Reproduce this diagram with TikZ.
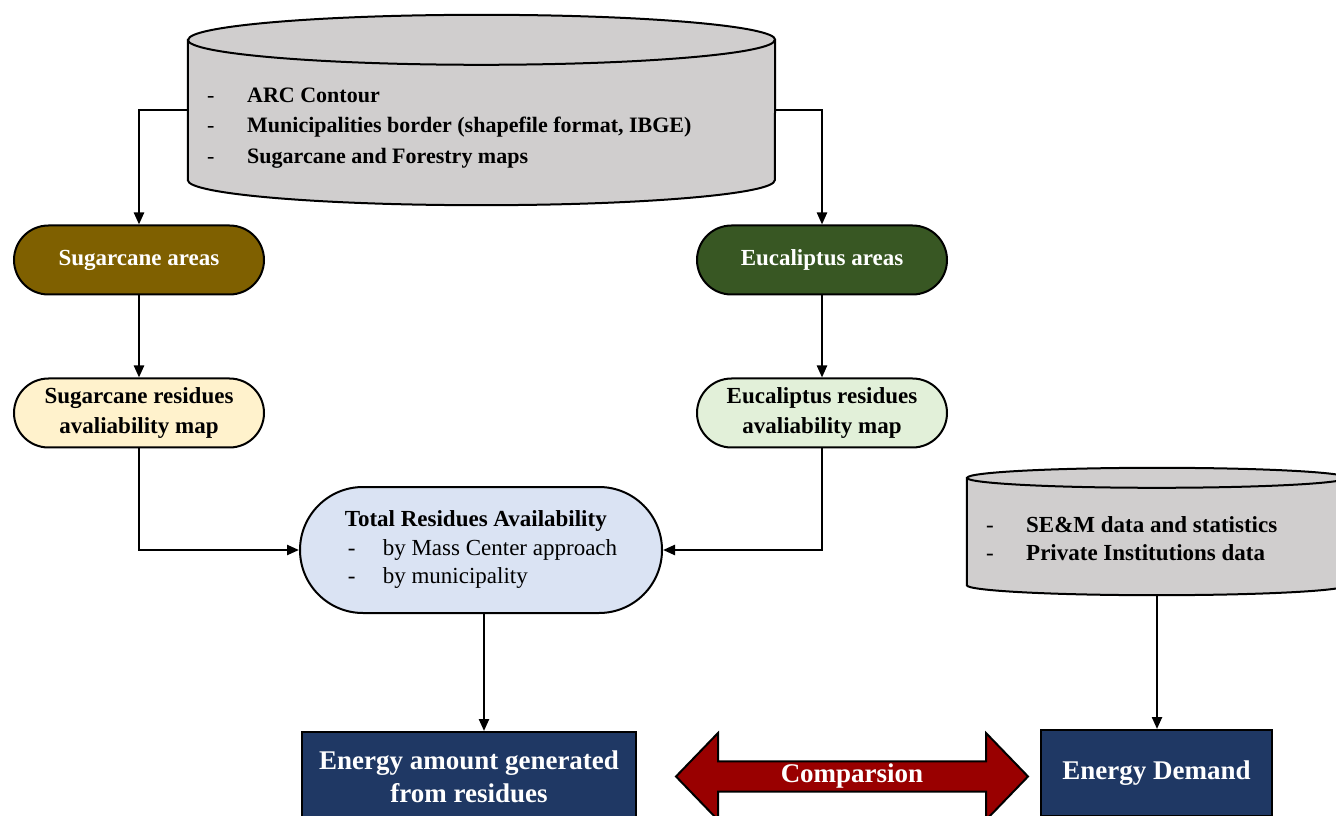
\documentclass[tikz,border=0pt]{standalone}
\usepackage{fontspec}
\setmainfont{Liberation Serif}
\usetikzlibrary{shapes.misc,shapes.arrows,arrows.meta}
\definecolor{cylgray}{HTML}{D0CECE}
\definecolor{sugbrown}{HTML}{7F6000}
\definecolor{eucgreen}{HTML}{385723}
\definecolor{sugyellow}{HTML}{FFF2CC}
\definecolor{euclight}{HTML}{E2F0D9}
\definecolor{totblue}{HTML}{DAE3F3}
\definecolor{navy}{HTML}{1F3864}
\definecolor{darkred}{HTML}{990000}
\begin{document}
\begin{tikzpicture}[x=1pt,y=1pt,
  arr/.style={line width=2.3pt,-{Triangle[length=12pt,width=10pt]}},
  cylfill/.style={fill=cylgray,draw=black,line width=2pt},
  cylbody/.style={rectangle,inner sep=0pt},
  cyltext/.style={inner sep=0pt,anchor=west,align=left},
  stad/.style={rounded rectangle,draw=black,line width=2pt,minimum width=250pt,
    minimum height=69pt,inner sep=0pt,align=center,font=\fontsize{23}{30}\selectfont\bfseries},
  navybox/.style={rectangle,draw=black,line width=2pt,fill=navy,text=white,align=center,
    inner sep=0pt,font=\fontsize{27}{33}\selectfont\bfseries}
]
\useasboundingbox (0,0) rectangle (1336,815);
\clip (0,0) rectangle (1336,815);

% top database cylinder
\node[cylbody,minimum width=587pt,minimum height=140pt] (db1) at (481.5,705) {};
\path[cylfill] (db1.north west) -- (db1.south west)
  arc[start angle=180,end angle=360,x radius=293.5pt,y radius=25pt]
  -- (db1.north east)
  arc[start angle=0,end angle=180,x radius=293.5pt,y radius=25pt] -- cycle;
\draw[line width=2pt] (db1.north west) arc[start angle=180,end angle=360,x radius=293.5pt,y radius=25pt];
\node[cyltext,font=\fontsize{22}{30.5}\selectfont] (db1t) at (207,687)
  {\makebox[40pt][l]{-}\textbf{ARC Contour}\\
   \makebox[40pt][l]{-}\textbf{Municipalities border (shapefile format, IBGE)}\\
   \makebox[40pt][l]{-}\textbf{Sugarcane and Forestry maps}};

% second database cylinder
\node[cylbody,minimum width=380pt,minimum height=107pt] (db2) at (1157,283.5) {};
\path[cylfill] (db2.north west) -- (db2.south west)
  arc[start angle=180,end angle=360,x radius=190pt,y radius=10pt]
  -- (db2.north east)
  arc[start angle=0,end angle=180,x radius=190pt,y radius=10pt] -- cycle;
\draw[line width=2pt] (db2.north west) arc[start angle=180,end angle=360,x radius=190pt,y radius=10pt];
\node[cyltext,font=\fontsize{23}{28}\selectfont] (db2t) at (986,276)
  {\makebox[40pt][l]{-}\textbf{SE\&M data and statistics}\\
   \makebox[40pt][l]{-}\textbf{Private Institutions data}};
\coordinate (db2b) at ([yshift=-10pt]db2.south);

% area nodes
\node[stad,fill=sugbrown,text=white] (sug) at (139,555) {Sugarcane areas};
\node[stad,fill=eucgreen,text=white] (euc) at (822,555) {Eucaliptus areas};
\node[stad,fill=sugyellow] (sugres) at (139,402) {Sugarcane residues\\avaliability map};
\node[stad,fill=euclight] (eucres) at (822,402) {Eucaliptus residues\\avaliability map};

% total residues
\node[rounded rectangle,draw=black,line width=2pt,fill=totblue,minimum width=362pt,
  minimum height=126pt,inner sep=0pt,align=left,font=\fontsize{23}{28.5}\selectfont] (tot) at (481,265)
  {\textbf{Total Residues Availability}\\
   \hspace*{3pt}\makebox[35pt][l]{-}by Mass Center approach\\
   \hspace*{3pt}\makebox[35pt][l]{-}by municipality};

% bottom row
\node[navybox,minimum width=334pt,minimum height=89pt] (energy) at (469,38.5)
  {Energy amount generated\\from residues};
\node[navybox,minimum width=231pt,minimum height=86pt] (demand) at (1156.5,42)
  {Energy Demand};
\node[double arrow,draw=black,line width=2pt,fill=darkred,text=white,
  minimum height=352pt,minimum width=87pt,double arrow head extend=25pt,
  double arrow tip angle=92,inner sep=0pt,
  font=\fontsize{27}{33}\selectfont\bfseries] (comp) at (852,38.5) {Comparsion};

% connectors
\draw[arr] (db1.west) -| (sug.north);
\draw[arr] (db1.east) -| (euc.north);
\draw[arr] (sug.south) -- (sugres.north);
\draw[arr] (euc.south) -- (eucres.north);
\draw[arr] (sugres.south) |- (tot.west);
\draw[arr] (eucres.south) |- (tot.east);
\draw[arr] ([xshift=3pt]tot.south) -- ([xshift=3pt]tot.south |- energy.north);
\draw[arr] (db2b) -- (db2b |- demand.north);
\end{tikzpicture}
\end{document}
